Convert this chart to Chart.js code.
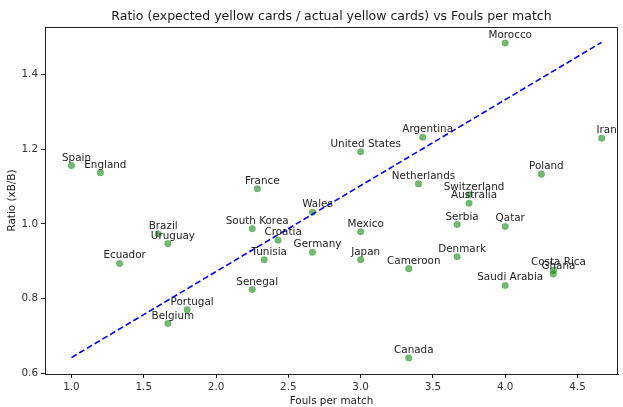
<!DOCTYPE html>
<html>
<head>
<meta charset="utf-8">
<script src="https://cdn.jsdelivr.net/npm/chart.js@4/dist/chart.umd.min.js"></script>
<style>
  body { margin: 0; background: #fff; }
  canvas { display: block; }
</style>
</head>
<body>
<canvas id="myChart" width="623" height="407"></canvas>
<script>
'use strict';

//********************* Data *************************/

let countries = ['Spain', 'England', 'France', 'Wales', 'Morocco', 'Argentina', 'United States', 'Iran',
  'Poland', 'Netherlands', 'Switzerland', 'Australia', 'Brazil', 'Uruguay', 'Ecuador', 'South Korea',
  'Croatia', 'Tunisia', 'Germany', 'Senegal', 'Portugal', 'Belgium', 'Mexico', 'Japan', 'Cameroon',
  'Denmark', 'Serbia', 'Qatar', 'Saudi Arabia', 'Costa Rica', 'Ghana', 'Canada'];

let fouls = [1.0, 1.2, 2.286, 2.667, 4.0, 3.429, 3.0, 4.667,
  4.25, 3.4, 3.75, 3.75, 1.6, 1.667, 1.333, 2.25,
  2.429, 2.333, 2.667, 2.25, 1.8, 1.667, 3.0, 3.0, 3.333,
  3.667, 3.667, 4.0, 4.0, 4.333, 4.333, 3.333];

let ratios = [1.156, 1.137, 1.094, 1.031, 1.484, 1.232, 1.193, 1.229,
  1.133, 1.107, 1.078, 1.055, 0.973, 0.947, 0.894, 0.987,
  0.956, 0.904, 0.924, 0.824, 0.770, 0.733, 0.979, 0.904, 0.880,
  0.912, 0.998, 0.993, 0.835, 0.876, 0.866, 0.641];

// dashed trend line, end points
let trendX = [1.0, 4.667];
let trendY = [0.642, 1.486];

let xTicks = [1.0, 1.5, 2.0, 2.5, 3.0, 3.5, 4.0, 4.5];
let yTicks = [0.6, 0.8, 1.0, 1.2, 1.4];

let titleText = 'Ratio (expected yellow cards / actual yellow cards) vs Fouls per match';
let xLabel = 'Fouls per match';
let yLabel = 'Ratio (xB/B)';

//********************** Build ****************************/

const FONT = '"DejaVu Sans", sans-serif';

let scatterPoints = [];
for (let i = 0; i < countries.length; i++) {
  scatterPoints.push({ x: fouls[i], y: ratios[i] });
}
let trendPoints = [];
for (let i = 0; i < trendX.length; i++) {
  trendPoints.push({ x: trendX[i], y: trendY[i] });
}

// title, axis labels, top/right spines and point names
const extrasPlugin = {
  id: 'extras',
  afterDraw(chart) {
    const ctx = chart.ctx;
    const area = chart.chartArea;
    ctx.save();

    ctx.strokeStyle = '#222';
    ctx.lineWidth = 1;
    ctx.beginPath();
    ctx.moveTo(area.left, area.top + 0.5);
    ctx.lineTo(area.right - 0.5, area.top + 0.5);
    ctx.lineTo(area.right - 0.5, area.bottom);
    ctx.stroke();

    ctx.fillStyle = '#1a1a1a';
    ctx.textAlign = 'center';
    ctx.textBaseline = 'alphabetic';
    ctx.font = '12.5px ' + FONT;
    ctx.fillText(titleText, (area.left + area.right) / 2, 20);

    ctx.font = '10.4px ' + FONT;
    ctx.fillText(xLabel, (area.left + area.right) / 2, 404);

    ctx.save();
    ctx.translate(15, (area.top + area.bottom) / 2);
    ctx.rotate(-Math.PI / 2);
    ctx.fillText(yLabel, 0, 0);
    ctx.restore();

    const meta = chart.getDatasetMeta(1);
    ctx.fillStyle = '#222';
    for (let i = 0; i < meta.data.length; i++) {
      const pt = meta.data[i];
      ctx.fillText(countries[i], pt.x + 5, pt.y - 5);
    }
    ctx.restore();
  }
};

const ctx = document.getElementById('myChart').getContext('2d');

const myChart = new Chart(ctx, {
  type: 'scatter',
  data: {
    datasets: [{
      type: 'line',
      data: trendPoints,
      borderColor: '#0000ff',
      borderWidth: 1.6,
      borderDash: [6, 3],
      pointRadius: 0,
      fill: false,
      order: 1
    },
    {
      data: scatterPoints,
      backgroundColor: 'rgba(0, 128, 0, 0.55)',
      borderColor: 'rgba(0, 128, 0, 0.2)',
      borderWidth: 1,
      pointRadius: 3.3,
      order: 2
    }]
  },
  options: {
    responsive: false,
    animation: false,
    devicePixelRatio: 1,
    layout: { padding: { top: 27, right: 1, left: 0, bottom: 0 } },
    plugins: {
      legend: { display: false },
      tooltip: { enabled: false },
      title: { display: false }
    },
    scales: {
      x: {
        type: 'linear',
        min: 0.817,
        max: 4.78,
        afterBuildTicks(scale) {
          scale.ticks = xTicks.map(v => ({ value: v }));
        },
        afterFit(scale) { scale.height = 33; },
        ticks: {
          color: '#333',
          font: { family: FONT, size: 10.4 },
          padding: 3,
          maxRotation: 0,
          callback: v => v.toFixed(1)
        },
        grid: {
          drawOnChartArea: false,
          drawTicks: true,
          tickLength: 4,
          tickColor: '#222'
        },
        border: { color: '#222', width: 1 }
      },
      y: {
        type: 'linear',
        min: 0.598,
        max: 1.527,
        afterBuildTicks(scale) {
          scale.ticks = yTicks.map(v => ({ value: v }));
        },
        afterFit(scale) { scale.width = 45; },
        ticks: {
          color: '#333',
          font: { family: FONT, size: 10.4 },
          padding: 3,
          callback: v => v.toFixed(1)
        },
        grid: {
          drawOnChartArea: false,
          drawTicks: true,
          tickLength: 4,
          tickColor: '#222'
        },
        border: { color: '#222', width: 1 }
      }
    }
  },
  plugins: [extrasPlugin]
});
</script>
</body>
</html>
